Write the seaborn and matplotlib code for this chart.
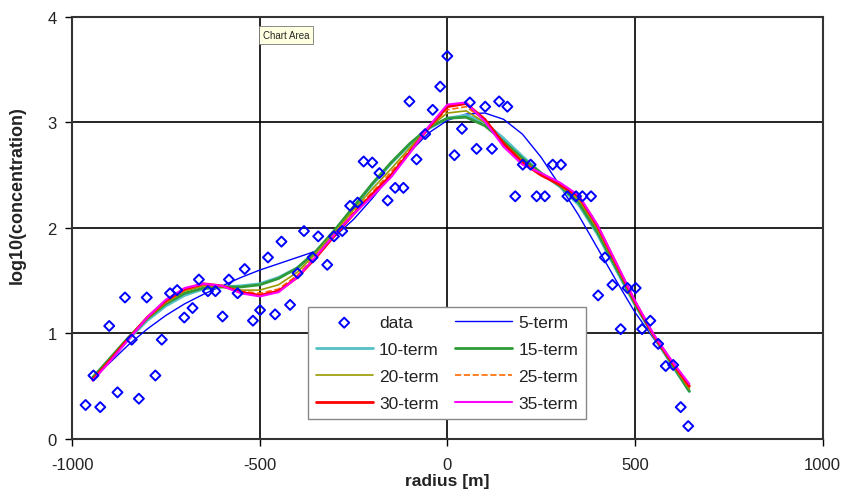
import pandas as pd
import matplotlib
matplotlib.use("Agg")
import matplotlib.pyplot as plt
import seaborn as sns

# measured data points
radius = [-964, -943, -925, -901, -879, -859, -841, -822, -801, -778, -761, -739, -720, -701,
          -679, -662, -638, -618, -599, -582, -559, -540, -518, -499, -478, -459, -442, -419,
          -399, -382, -359, -344, -320, -302, -280, -259, -239, -223, -200, -181, -159, -139,
          -117, -101, -82, -59, -39, -19, 0, 19, 39, 60, 78, 101, 119, 138, 160, 181, 201,
          222, 238, 260, 281, 303, 320, 343, 360, 383, 402, 420, 440, 462, 480, 502, 519,
          541, 562, 582, 602, 622, 642]
log_conc = [0.32, 0.60, 0.30, 1.07, 0.44, 1.34, 0.94, 0.38, 1.34, 0.60, 0.94, 1.38, 1.41, 1.15,
            1.24, 1.51, 1.40, 1.40, 1.16, 1.51, 1.38, 1.61, 1.12, 1.22, 1.72, 1.18, 1.87, 1.27,
            1.57, 1.97, 1.72, 1.92, 1.65, 1.92, 1.97, 2.21, 2.24, 2.63, 2.62, 2.52, 2.26, 2.38,
            2.38, 3.20, 2.65, 2.89, 3.12, 3.34, 3.63, 2.69, 2.94, 3.19, 2.75, 3.15, 2.75, 3.20,
            3.15, 2.30, 2.60, 2.60, 2.30, 2.30, 2.60, 2.60, 2.30, 2.30, 2.30, 2.30, 1.36, 1.72,
            1.46, 1.04, 1.43, 1.43, 1.04, 1.12, 0.90, 0.69, 0.70, 0.30, 0.12]

# fitted curves
radius_fit = [-945, -900, -850, -800, -750, -700, -650, -600, -550, -500, -450, -400, -350,
              -300, -250, -200, -150, -100, -50, 0, 50, 100, 150, 200, 250, 300, 350, 400,
              450, 500, 550, 600, 645]
fit_5 = [0.57, 0.72, 0.89, 1.04, 1.17, 1.28, 1.37, 1.45, 1.53, 1.60, 1.66, 1.72, 1.78,
         1.92, 2.08, 2.28, 2.50, 2.72, 2.90, 3.02, 3.08, 3.09, 3.03, 2.89, 2.67, 2.40, 2.12,
         1.81, 1.50, 1.20, 0.95, 0.70, 0.48]
fit_10 = [0.58, 0.75, 0.94, 1.12, 1.26, 1.36, 1.42, 1.44, 1.45, 1.47, 1.53, 1.62, 1.77,
          1.97, 2.19, 2.41, 2.61, 2.79, 2.94, 3.04, 3.07, 3.00, 2.85, 2.68, 2.52, 2.39, 2.22,
          1.94, 1.60, 1.27, 0.97, 0.69, 0.45]
fit_15 = [0.58, 0.76, 0.96, 1.14, 1.28, 1.38, 1.43, 1.44, 1.44, 1.46, 1.52, 1.62, 1.78,
          1.98, 2.20, 2.42, 2.62, 2.80, 2.95, 3.04, 3.05, 2.97, 2.82, 2.66, 2.52, 2.40, 2.24,
          1.96, 1.62, 1.28, 0.98, 0.70, 0.45]
fit_20 = [0.57, 0.75, 0.95, 1.14, 1.29, 1.40, 1.45, 1.44, 1.41, 1.41, 1.46, 1.58, 1.76,
          1.96, 2.17, 2.37, 2.56, 2.76, 2.95, 3.09, 3.11, 3.00, 2.81, 2.64, 2.51, 2.40, 2.27,
          1.99, 1.64, 1.29, 0.98, 0.71, 0.47]
fit_25 = [0.56, 0.74, 0.95, 1.15, 1.30, 1.41, 1.46, 1.45, 1.40, 1.38, 1.42, 1.55, 1.74,
          1.94, 2.15, 2.34, 2.53, 2.74, 2.95, 3.12, 3.15, 3.02, 2.80, 2.63, 2.51, 2.41, 2.29,
          2.01, 1.65, 1.30, 0.98, 0.71, 0.48]
fit_30 = [0.56, 0.74, 0.95, 1.15, 1.31, 1.42, 1.47, 1.45, 1.39, 1.36, 1.40, 1.53, 1.72,
          1.93, 2.13, 2.32, 2.50, 2.72, 2.95, 3.15, 3.18, 3.03, 2.80, 2.62, 2.50, 2.41, 2.30,
          2.02, 1.66, 1.30, 0.98, 0.72, 0.50]
fit_35 = [0.55, 0.73, 0.94, 1.15, 1.32, 1.43, 1.47, 1.45, 1.38, 1.35, 1.39, 1.53, 1.73,
          1.94, 2.13, 2.30, 2.48, 2.71, 2.96, 3.17, 3.19, 3.01, 2.77, 2.60, 2.52, 2.43, 2.31,
          2.03, 1.67, 1.31, 0.99, 0.73, 0.52]

sns.set_style("white")
plt.rcParams["font.family"] = ["Liberation Sans", "DejaVu Sans"]
plt.rcParams["axes.unicode_minus"] = False

fig, ax = plt.subplots(figsize=(8.48, 5.02), dpi=100)
fig.subplots_adjust(left=0.085, right=0.970, top=0.964, bottom=0.124)

sns.scatterplot(x=radius, y=log_conc, marker="D", s=26, facecolors="none",
                edgecolor="#0000ff", linewidth=1.4, label="data", ax=ax, zorder=3)

curves = [
    ("5-term", fit_5, "#0000ff", 1.0, "-"),
    ("10-term", fit_10, "#55c0c8", 2.0, "-"),
    ("15-term", fit_15, "#2e9a3a", 2.0, "-"),
    ("20-term", fit_20, "#9a9a00", 1.2, "-"),
    ("25-term", fit_25, "#ff6a00", 1.2, "--"),
    ("30-term", fit_30, "#ff0000", 2.0, "-"),
    ("35-term", fit_35, "#ff00ff", 1.5, "-"),
]
for name, vals, col, lw, ls in curves:
    sns.lineplot(x=radius_fit, y=vals, color=col, linewidth=lw, linestyle=ls,
                 label=name, ax=ax, zorder=2, sort=False)

ax.set_xlim(-1000, 1000)
ax.set_ylim(0, 4)
ax.set_xticks([-1000, -500, 0, 500, 1000])
ax.set_yticks([0, 1, 2, 3, 4])
ax.grid(True, color="black", linewidth=1.2)
ax.set_axisbelow(True)
for sp in ax.spines.values():
    sp.set_color("#333333")
    sp.set_linewidth(1.5)
ax.tick_params(axis="both", direction="out", length=5, width=1, color="black",
               labelsize=12, labelcolor="#222222", bottom=True, left=True)
ax.tick_params(axis="x", pad=8)
ax.tick_params(axis="y", pad=6)

ax.set_xlabel("radius [m]", fontsize=12.5, fontweight="bold", labelpad=1, color="#222222")
ax.set_ylabel("log10(concentration)", fontsize=13, fontweight="bold", color="#222222")
ax.yaxis.set_label_coords(-0.062, 0.58)

h, l = ax.get_legend_handles_labels()
order = [0, 2, 4, 6, 1, 3, 5, 7]
leg = ax.legend([h[i] for i in order], [l[i] for i in order], ncol=2,
                loc="lower left", bbox_to_anchor=(0.314, 0.047), fontsize=12.5,
                frameon=True, fancybox=False, edgecolor="#888888", framealpha=1,
                handlelength=3.3, columnspacing=0.95, labelspacing=0.68,
                borderpad=0.45, handletextpad=0.35, borderaxespad=0)
leg.get_frame().set_linewidth(1.0)
for t in leg.get_texts():
    t.set_color("#222222")

fig.text(0.337, 0.928, "Chart Area", fontsize=7, ha="center", va="center",
         bbox=dict(boxstyle="square,pad=0.4", facecolor="#ffffe1", edgecolor="#777777",
                   linewidth=0.6))

plt.savefig("out.png", dpi=100)
